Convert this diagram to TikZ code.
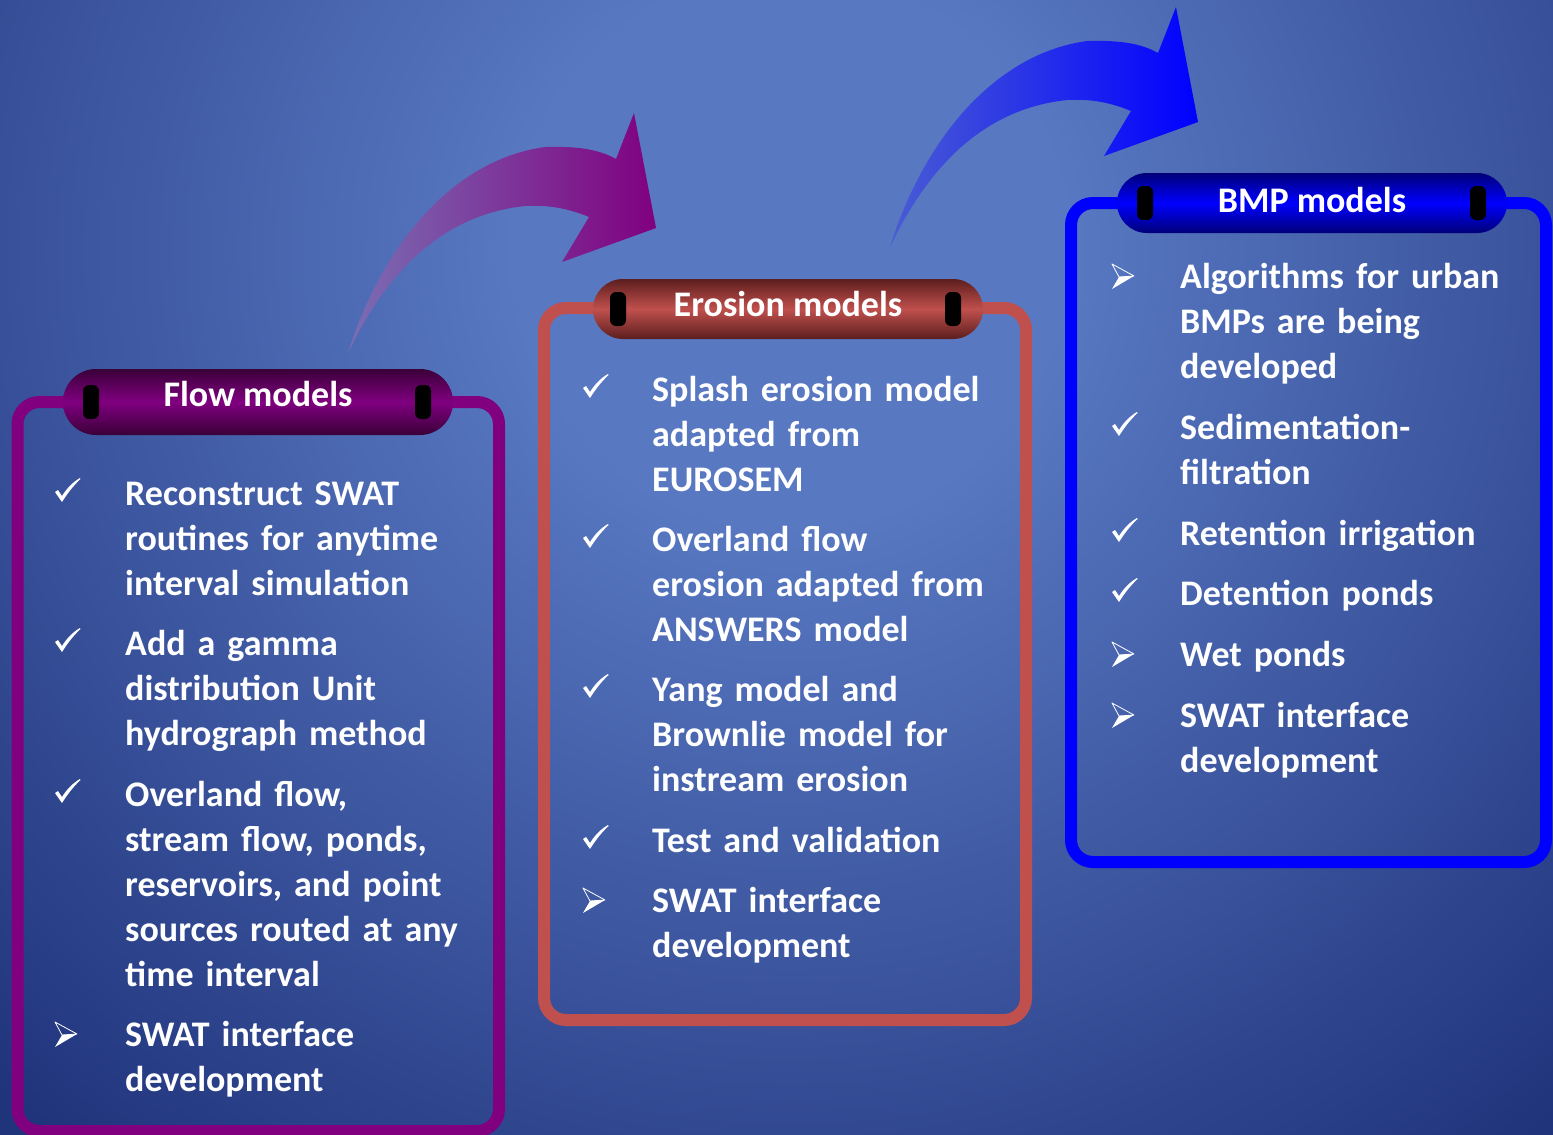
\documentclass[tikz,border=0pt]{standalone}
\usepackage{fontspec}
\setmainfont{Carlito}
\usetikzlibrary{positioning, shapes.misc}

\definecolor{bglight}{HTML}{5878C2}
\definecolor{bgdark}{HTML}{20347C}
\definecolor{flowc}{HTML}{800080}
\definecolor{flowdark}{HTML}{3A0038}
\definecolor{flowtail}{HTML}{7A6EB4}
\definecolor{erosc}{HTML}{C0504D}
\definecolor{erosdark}{HTML}{5C1E1E}
\definecolor{bmpc}{HTML}{0000FF}
\definecolor{bmpdark}{HTML}{000078}
\definecolor{bmptail}{HTML}{4A5CD4}

\pgfdeclareradialshading{bgshade}{\pgfpoint{0bp}{0bp}}{color(0bp)=(bglight); color(6bp)=(bglight); color(25bp)=(bgdark); color(50bp)=(bgdark)}

\tikzset{
  frame/.style={line width=12pt, rounded corners=22pt},
  pill/.style={rounded rectangle, minimum width=390pt, minimum height=#1, inner sep=0pt,
    text=white, font=\fontsize{36}{36}\selectfont\bfseries, text height=26pt},
  slot/.style={fill=black, rounded corners=6pt, minimum width=16pt, minimum height=34pt, inner sep=0pt},
  item/.style={anchor=base west, inner sep=0pt, text width=400pt, align=left, text=white,
    font=\fontsize{36}{45}\selectfont\bfseries},
  tick/.pic={
    \fill[white] (0,-13) -- (3,-15) -- (7,-9) .. controls (12,-17) and (18,-23) .. (25,-27)
      -- (25.5,-26) .. controls (18,-19) and (12,-11) .. (7,-3) -- cycle;
  },
  arrowbullet/.pic={
    \draw[white, line width=0.8pt, line join=round] (0,-24) -- (22,-12) -- (7,-11) -- cycle;
    \fill[white] (7,-11) -- (22,-12) -- (0,1) -- cycle;
  },
}

\begin{document}
\begin{tikzpicture}[x=1pt, y=-1pt]
  \useasboundingbox (0,0) rectangle (1553,1135);

  % fond bleu
  \begin{scope}
    \clip (0,0) rectangle (1553,1135);
    \fill[bgdark] (0,0) rectangle (1553,1135);
    \shade[shading=bgshade] (790,250) circle (1150);
  \end{scope}

  % grandes fleches courbes
  \shade[left color=flowtail, right color=flowc]
    (348,353) .. controls (380,250) and (450,160) .. (545,147)
    .. controls (580,146) and (600,150) .. (616,159)
    -- (634,113) -- (656,228) -- (562,262) -- (589,217)
    .. controls (565,207) and (545,205) .. (525,206)
    .. controls (440,215) and (385,275) .. (348,353) -- cycle;
  \begin{scope}[shift={(542,-106)}]
    \shade[left color=bmptail, right color=bmpc]
      (348,353) .. controls (380,250) and (450,160) .. (545,147)
      .. controls (580,146) and (600,150) .. (616,159)
      -- (634,113) -- (656,228) -- (562,262) -- (589,217)
      .. controls (565,207) and (545,205) .. (525,206)
      .. controls (440,215) and (385,275) .. (348,353) -- cycle;
  \end{scope}

  % cadres
  \draw[frame, flowc] (17.5,402) rectangle (499,1131);
  \draw[frame, erosc] (544,308) rectangle (1026,1020);
  \draw[frame, bmpc] (1071,203) rectangle (1546,862);

  % titres
  \node[pill=66pt, text depth=18pt, top color=flowdark, bottom color=flowdark, middle color=flowc] (flowhead) at (258,402) {Flow models};
  \node[slot, right=20pt of flowhead.west] (flowslotl) {};
  \node[slot, left=22pt of flowhead.east] (flowslotr) {};

  \node[pill=60pt, text depth=12pt, top color=erosdark, bottom color=erosdark, middle color=erosc] (eroshead) at (788,309) {Erosion models};
  \node[slot, right=17pt of eroshead.west] (erosslotl) {};
  \node[slot, left=22pt of eroshead.east] (erosslotr) {};

  \node[pill=60pt, text depth=8pt, top color=bmpdark, bottom color=bmpdark, middle color=bmpc] (bmphead) at (1312,203) {BMP models};
  \node[slot, right=20pt of bmphead.west] (bmpslotl) {};
  \node[slot, left=21pt of bmphead.east] (bmpslotr) {};

  % Flow models
  \node[item] (f1) at (125,505) {Reconstruct SWAT\\routines for anytime\\interval simulation};
  \node[item] (f2) at (125,655) {Add a gamma\\distribution Unit\\hydrograph method};
  \node[item] (f3) at (125,806) {Overland flow,\\stream flow, ponds,\\reservoirs, and point\\sources routed at any\\time interval};
  \node[item] (f4) at (125,1046) {SWAT interface\\development};
  \path (f1.base west) ++(-70,0) pic {tick};
  \path (f2.base west) ++(-70,0) pic {tick};
  \path (f3.base west) ++(-70,0) pic {tick};
  \path (f4.base west) ++(-70,0) pic {arrowbullet};

  % Erosion models
  \node[item] (e1) at (652,401) {Splash erosion model\\adapted from\\EUROSEM};
  \node[item] (e2) at (652,551) {Overland flow\\erosion adapted from\\ANSWERS model};
  \node[item] (e3) at (652,701) {Yang model and\\Brownlie model for\\instream erosion};
  \node[item] (e4) at (652,852) {Test and validation};
  \node[item] (e5) at (652,912) {SWAT interface\\development};
  \path (e1.base west) ++(-69,0) pic {tick};
  \path (e2.base west) ++(-69,0) pic {tick};
  \path (e3.base west) ++(-69,0) pic {tick};
  \path (e4.base west) ++(-69,0) pic {tick};
  \path (e5.base west) ++(-69,0) pic {arrowbullet};

  % BMP models
  \node[item] (b1) at (1180,288) {Algorithms for urban\\BMPs are being\\developed};
  \node[item] (b2) at (1180,439) {Sedimentation-\\filtration};
  \node[item] (b3) at (1180,545) {Retention irrigation};
  \node[item] (b4) at (1180,605) {Detention ponds};
  \node[item] (b5) at (1180,666) {Wet ponds};
  \node[item] (b6) at (1180,727) {SWAT interface\\development};
  \path (b1.base west) ++(-68,0) pic {arrowbullet};
  \path (b2.base west) ++(-68,0) pic {tick};
  \path (b3.base west) ++(-68,0) pic {tick};
  \path (b4.base west) ++(-68,0) pic {tick};
  \path (b5.base west) ++(-68,0) pic {arrowbullet};
  \path (b6.base west) ++(-68,0) pic {arrowbullet};
\end{tikzpicture}
\end{document}
